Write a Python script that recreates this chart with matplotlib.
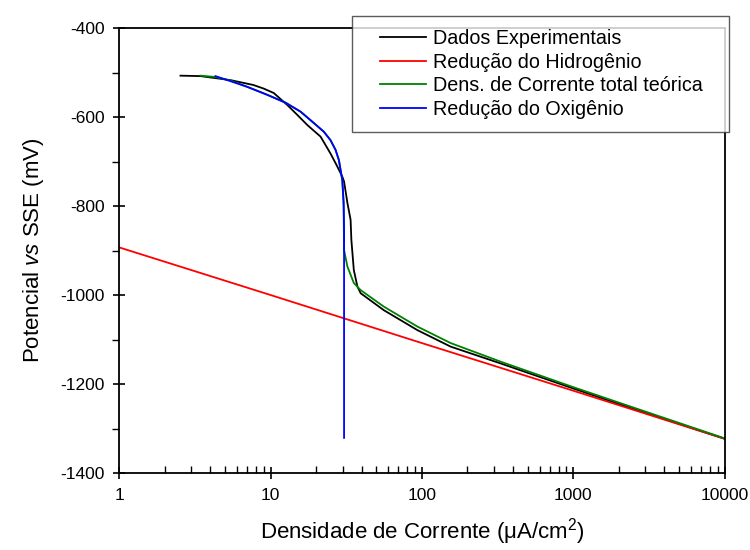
import numpy as np
import matplotlib.pyplot as plt
from matplotlib.legend_handler import HandlerLine2D
from matplotlib.ticker import FixedLocator, FuncFormatter, LogLocator, MultipleLocator

plt.rcParams['font.family'] = ['Liberation Sans', 'DejaVu Sans']
plt.rcParams['mathtext.fontset'] = 'custom'
plt.rcParams['mathtext.rm'] = 'Liberation Sans'
plt.rcParams['mathtext.it'] = 'Liberation Sans:italic'
plt.rcParams['axes.unicode_minus'] = False

# current density (uA/cm2) and potential (mV vs SSE)
exp_i = [2.54, 3.44, 5.43, 7.7, 9.0, 10.5, 12.9, 15.0, 17.5, 21.4, 24.9, 27.5, 29.8,
         30.6, 32.2, 33.8, 34.2, 35.5, 37.5, 39.4, 56, 93.5, 155, 333, 1000, 3000, 10000]
exp_E = [-507, -508, -517, -528, -536, -546, -573, -595, -618, -644, -682, -710, -734,
         -745, -793, -831, -876, -944, -981, -996, -1034, -1079, -1116, -1154, -1210,
         -1265, -1323]

h2_i = [1, 10, 100, 1000, 10000]
h2_E = [-893, -1000, -1108, -1215, -1323]

tot_i = [3.44, 4.32, 5.43, 7.0, 9.5, 12.6, 15.8, 19.4, 22.5, 24.9, 26.9, 28.3, 29.8,
         30.4, 30.6, 32.2, 35.5, 39.4, 56, 93.5, 155, 333, 1000, 3000, 10000]
tot_E = [-507, -510, -518, -532, -550, -568, -588, -614, -633, -652, -674, -697, -742,
         -800, -899, -936, -973, -989, -1026, -1071, -1108, -1150, -1207, -1262, -1322]

o2_i = [4.32, 7.0, 9.5, 12.6, 15.8, 19.4, 22.5, 24.9, 26.9, 28.3, 29.8, 30.4, 30.6, 30.6]
o2_E = [-508, -532, -550, -568, -588, -614, -633, -652, -674, -697, -742, -790, -850, -1321]


class RightLine(HandlerLine2D):
    # legend line drawn only in the right part of the handle box
    def get_xdata(self, legend, xdescent, ydescent, width, height, fontsize):
        x = np.array([0.25 * width, width]) - xdescent
        return x, x


fig = plt.figure(figsize=(7.5, 5.5), dpi=100)
ax = fig.add_axes([0.159, 0.14, 0.807, 0.809])

lw = 1.3
l1, = ax.plot(exp_i, exp_E, color='black', lw=lw, label='Dados Experimentais')
l2, = ax.plot(h2_i, h2_E, color='#ff0000', lw=lw, label='Redução do Hidrogênio')
l3, = ax.plot(tot_i, tot_E, color='#008000', lw=lw, label='Dens. de Corrente total teórica')
l4, = ax.plot(o2_i, o2_E, color='#0000ff', lw=lw, label='Redução do Oxigênio')

ax.set_xscale('log')
ax.set_xlim(1, 10000)
ax.set_ylim(-1400, -400)

ax.xaxis.set_major_locator(FixedLocator([1, 10, 100, 1000, 10000]))
ax.xaxis.set_major_formatter(FuncFormatter(lambda v, p: '%d' % round(v)))
ax.xaxis.set_minor_locator(LogLocator(base=10, subs=np.arange(2, 10), numticks=20))
ax.yaxis.set_major_locator(MultipleLocator(200))
ax.yaxis.set_minor_locator(MultipleLocator(100))
ax.yaxis.set_major_formatter(FuncFormatter(lambda v, p: '%d' % v))

ax.tick_params(axis='both', which='major', direction='inout', length=9, width=1.2,
               labelsize=12.5)
ax.tick_params(axis='y', which='major', pad=6)
ax.tick_params(axis='x', which='major', pad=6)
ax.tick_params(axis='x', which='minor', direction='in', length=5, width=1.0)
ax.tick_params(axis='y', which='minor', direction='out', length=5, width=1.0)
ax.tick_params(top=False, right=False, which='both')

for s in ax.spines.values():
    s.set_linewidth(1.3)

ax.set_xlabel('Densidade de Corrente (μA/cm$^2$)', fontsize=16, labelpad=10)
ax.set_ylabel('Potencial $vs$ SSE (mV)', fontsize=16, labelpad=10)

leg = fig.legend(handles=[l1, l2, l3, l4], loc='upper left',
                 bbox_to_anchor=(352 / 750, 1 - 16 / 550 - 0.01, 377 / 750, 0.01),
                 mode='expand', fontsize=14.2,
                 frameon=True, fancybox=False, edgecolor='#333333',
                 borderpad=0.65, labelspacing=0.24, handlelength=3.1,
                 handletextpad=0.35, borderaxespad=0,
                 handler_map={l: RightLine() for l in [l1, l2, l3, l4]})
leg.get_frame().set_linewidth(1.0)

fig.savefig('out.png', dpi=100)
